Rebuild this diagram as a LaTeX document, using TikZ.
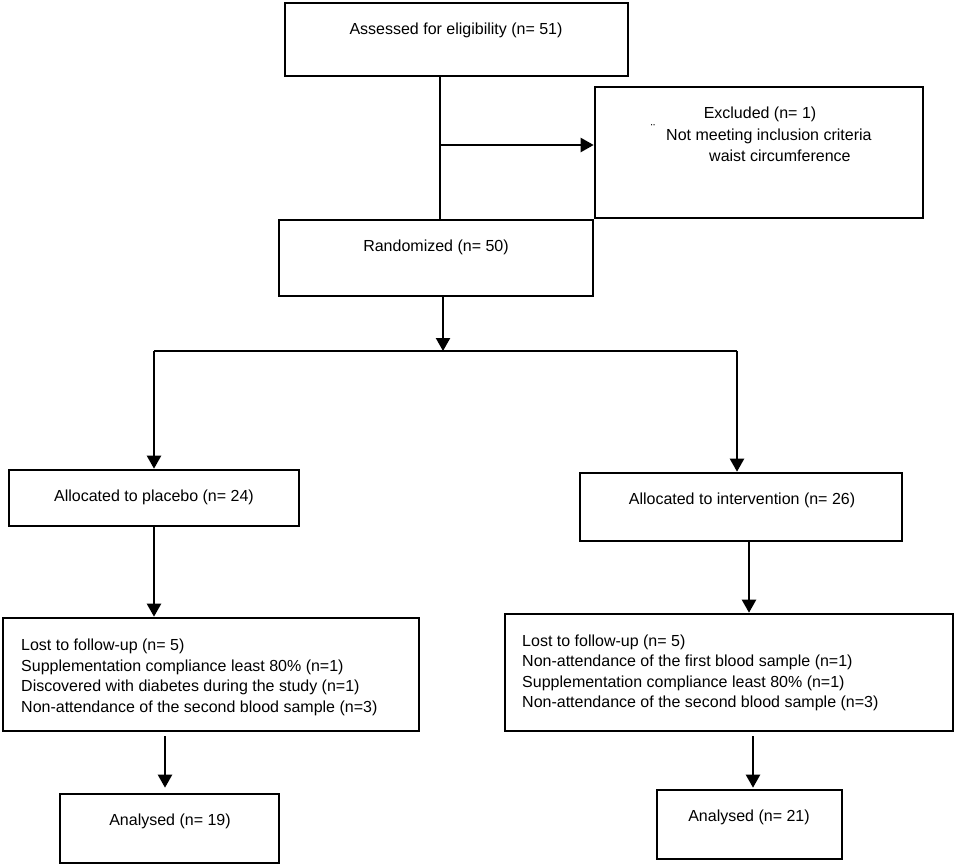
\documentclass[tikz,border=0pt]{standalone}
\usepackage{fontspec}
\setmainfont{Liberation Sans}
\usetikzlibrary{arrows.meta}
\begin{document}
\begin{tikzpicture}[x=1pt,y=-1pt,
  box/.style={draw=black,line width=2.6pt,rectangle,inner sep=0pt},
  txt/.style={inner sep=0pt,font=\fontsize{16}{20.5}\selectfont},
  conn/.style={line width=2.2pt},
  arr/.style={line width=2.2pt,-{Triangle[length=13pt,width=14pt]}}]
\useasboundingbox (0,0) rectangle (957,867);
% boxes
\node[box,minimum width=343pt,minimum height=73pt] (assess) at (456.5,39.5) {};
\node[box,minimum width=328pt,minimum height=131pt] (excl) at (759,152.5) {};
\node[box,minimum width=314pt,minimum height=76pt] (rand) at (436,258) {};
\node[box,minimum width=290pt,minimum height=56pt] (plac) at (154,498) {};
\node[box,minimum width=322pt,minimum height=68pt] (intv) at (741,507) {};
\node[box,minimum width=416pt,minimum height=113pt] (lostL) at (211,674.5) {};
\node[box,minimum width=448pt,minimum height=117pt] (lostR) at (729,672.5) {};
\node[box,minimum width=219pt,minimum height=69pt] (anaL) at (169.5,828.5) {};
\node[box,minimum width=185pt,minimum height=69pt] (anaR) at (749.5,824.5) {};
% texts
\node[txt,anchor=mid] (tassess) at (456,32) {Assessed for eligibility (n= 51)};
\node[txt,anchor=mid] (tex1) at (760,116) {Excluded (n= 1)};
\node[inner sep=0pt,font=\fontsize{13}{14}\selectfont,anchor=mid] (texdot) at (653,131) {¨};
\node[txt,anchor=mid west] (tex2) at (666,138) {Not meeting inclusion criteria};
\node[txt,anchor=mid west] (tex3) at (709,159) {waist circumference};
\node[txt,anchor=mid] (trand) at (436,249) {Randomized (n= 50)};
\node[txt,anchor=mid] (tplac) at (154,499) {Allocated to placebo (n= 24)};
\node[txt,anchor=mid] (tintv) at (742,502) {Allocated to intervention (n= 26)};
\node[txt,anchor=west,align=left] (tlostL) at (21,677.5) {Lost to follow-up (n= 5)\\Supplementation compliance least 80\% (n=1)\\Discovered with diabetes during the study (n=1)\\Non-attendance of the second blood sample (n=3)};
\node[txt,anchor=west,align=left] (tlostR) at (522,673) {Lost to follow-up (n= 5)\\Non-attendance of the first blood sample (n=1)\\Supplementation compliance least 80\% (n=1)\\Non-attendance of the second blood sample (n=3)};
\node[txt,anchor=mid] (tanaL) at (170,823) {Analysed (n= 19)};
\node[txt,anchor=mid] (tanaR) at (749,819) {Analysed (n= 21)};
% connectors
\coordinate (j) at (440,145);
\draw[conn] (j |- assess.south) -- (j |- rand.north);
\draw[arr] (j) -- (j -| excl.west);
\coordinate (br) at (443,351);
\coordinate (bl) at (154,351);
\coordinate (brr) at (737,351);
\draw[arr] (br |- rand.south) -- (br);
\draw[conn] (bl) -- (brr);
\draw[arr] (bl) -- (bl |- plac.north);
\draw[arr] (brr) -- (brr |- intv.north);
\draw[arr] (plac.south) -- (plac.south |- lostL.north);
\coordinate (xr) at (749,0);
\draw[arr] (xr |- intv.south) -- (xr |- lostR.north);
\coordinate (xl2) at (165,0);
\draw[arr] ([yshift=-4pt]xl2 |- lostL.south) -- ([yshift=5pt]xl2 |- anaL.north);
\coordinate (xr2) at (753,0);
\draw[arr] ([yshift=-4pt]xr2 |- lostR.south) -- ([yshift=1pt]xr2 |- anaR.north);
\end{tikzpicture}
\end{document}
